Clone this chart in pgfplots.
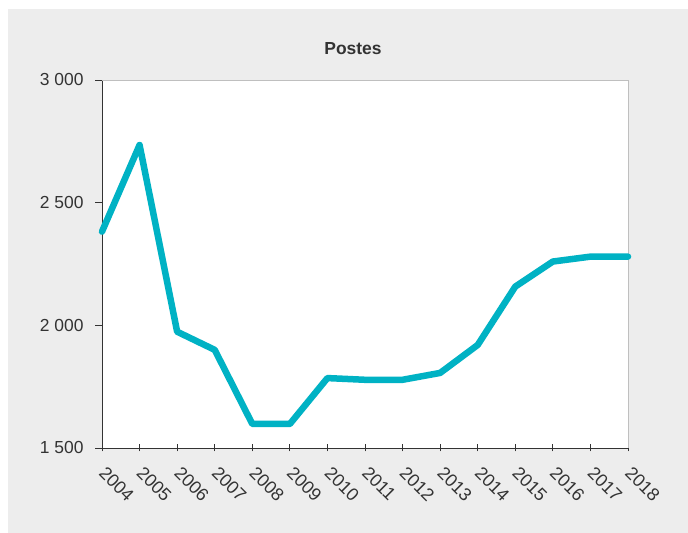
\documentclass[border=0pt]{standalone}
\usepackage{fontspec}
\setmainfont{Liberation Sans}
\usepackage{pgfplots}
\pgfplotsset{compat=1.18}
\definecolor{linecol}{HTML}{00B2C4}
\definecolor{panel}{HTML}{EDEDED}
\definecolor{txt}{HTML}{333333}

\begin{document}
\begin{tikzpicture}[x=1bp,y=1bp]
\useasboundingbox (0,0) rectangle (688,533);
\fill[panel] (8,0) rectangle (688,524);
\node[font=\fontsize{17.5}{20}\selectfont\bfseries, text=txt] at (353,484) {Postes};
\begin{axis}[
    at={(102bp,85bp)}, anchor=south west,
    scale only axis,
    width=526bp, height=368bp,
    xmin=2004, xmax=2018,
    ymin=1500, ymax=3000,
    xtick={2004,...,2018},
    ytick={1500,2000,2500,3000},
    axis lines*=left,
    axis line style={txt, line width=0.8pt},
    axis background/.style={fill=white},
    tick style={txt, line width=0.8pt},
    major tick length=7bp,
    xtick align=center,
    ytick align=outside,
    tick label style={font=\fontsize{17.5}{20}\selectfont, text=txt},
    /pgf/number format/assume math mode=true,
    y tick label style={/pgf/number format/1000 sep={\ }, xshift=-8bp},
    x tick label style={/pgf/number format/1000 sep={}, font=\fontsize{18}{20}\selectfont, xshift=5bp, yshift=-9bp, rotate=-45, anchor=north west},
    clip=false,
]
\draw[gray!50, line width=0.8pt] (rel axis cs:0,1) -- (rel axis cs:1,1) -- (rel axis cs:1,0);
\addplot[linecol, line width=6.5bp, line join=round, line cap=round] coordinates {
    (2004,2382) (2005,2735) (2006,1974) (2007,1900) (2008,1598) (2009,1598)
    (2010,1785) (2011,1778) (2012,1778) (2013,1806) (2014,1920) (2015,2158)
    (2016,2260) (2017,2280) (2018,2280)
};
\end{axis}
\end{tikzpicture}
\end{document}
